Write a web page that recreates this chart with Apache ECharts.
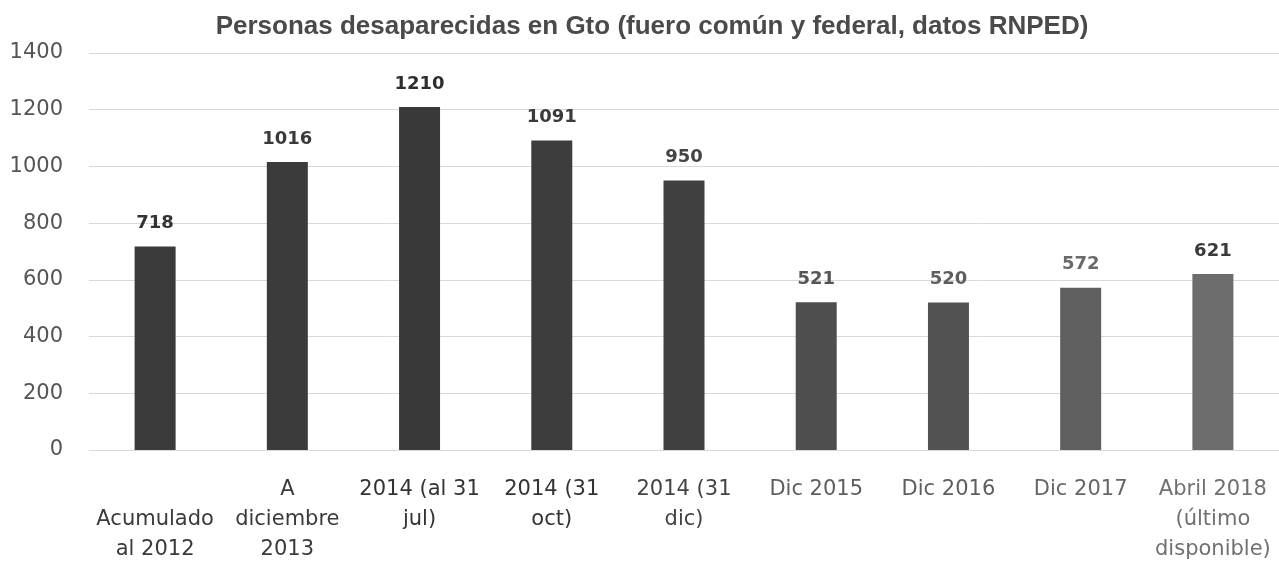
<!DOCTYPE html>
<html>
<head>
<meta charset="utf-8">
<script src="https://cdn.jsdelivr.net/npm/echarts@6/dist/echarts.min.js"></script>
<style>
html,body{margin:0;padding:0;background:#fff;}
#chart{width:1279px;height:569px;}
</style>
</head>
<body>
<div id="chart"></div>
<script>
const titleText = 'Personas desaparecidas en Gto (fuero común y federal, datos RNPED)';
const categories = [
  '\nAcumulado\nal 2012',
  'A\ndiciembre\n2013',
  '2014 (al 31\njul)',
  '2014 (31\noct)',
  '2014 (31\ndic)',
  'Dic 2015',
  'Dic 2016',
  'Dic 2017',
  'Abril 2018\n(último\ndisponible)'
];
const values = [718, 1016, 1210, 1091, 950, 521, 520, 572, 621];
const yTicks = [0, 200, 400, 600, 800, 1000, 1200, 1400];

// styling (kept apart from data)
const barColors = ['#3b3b3b','#3b3b3b','#393939','#3d3d3d','#404040','#4e4e4e','#525252','#5f5f5f','#6d6d6d'];
const valueLabelColors = ['#333','#3a3a3a','#2e2e2e','#3a3a3a','#444','#555','#5e5e5e','#6a6a6a','#3a3a3a'];
const catLabelColors = ['#3a3a3a','#3a3a3a','#333','#333','#444','#5e5e5e','#5e5e5e','#666','#707070'];

const chart = echarts.init(document.getElementById('chart'), null, {renderer: 'canvas'});
const rich = {};
catLabelColors.forEach((c, i) => { rich['c' + i] = {color: c, fontFamily: 'DejaVu Sans', fontSize: 21, lineHeight: 30, align: 'center'}; });

chart.setOption({
  animation: false,
  backgroundColor: '#fff',
  title: {
    text: titleText,
    left: 647, top: 9, textAlign: 'center',
    textStyle: {fontFamily: 'Liberation Sans', fontWeight: 'bold', fontSize: 26, color: '#4a4a4a'}
  },
  grid: {left: 89, right: 0, top: 53, bottom: 119, containLabel: false},
  xAxis: {
    type: 'category',
    data: categories,
    axisLine: {show: true, lineStyle: {color: '#d9d9d9', width: 1}},
    axisTick: {show: false},
    axisLabel: {
      interval: 0,
      margin: 25,
      fontFamily: 'DejaVu Sans', fontSize: 21, lineHeight: 30, color: '#444',
      formatter: function (v, i) {
        return v.split('\n').map(function (s) { return '{c' + i + '|' + (s === '' ? ' ' : s) + '}'; }).join('\n');
      },
      rich: rich
    }
  },
  yAxis: {
    type: 'value',
    min: 0, max: 1400, interval: 200,
    axisLine: {show: false},
    axisTick: {show: false},
    splitLine: {lineStyle: {color: '#d9d9d9', width: 1}},
    axisLabel: {
      margin: 26,
      fontFamily: 'DejaVu Sans', fontSize: 21, color: '#555',
      formatter: function (v) { return yTicks.indexOf(v) >= 0 ? String(v) : ''; }
    }
  },
  series: [{
    type: 'bar',
    barWidth: 41,
    data: values.map((v, i) => ({
      value: v,
      itemStyle: {color: barColors[i]},
      label: {color: valueLabelColors[i]}
    })),
    label: {
      show: true, position: 'top', distance: 14,
      fontFamily: 'DejaVu Sans', fontWeight: 'bold', fontSize: 18
    }
  }]
});
</script>
</body>
</html>
